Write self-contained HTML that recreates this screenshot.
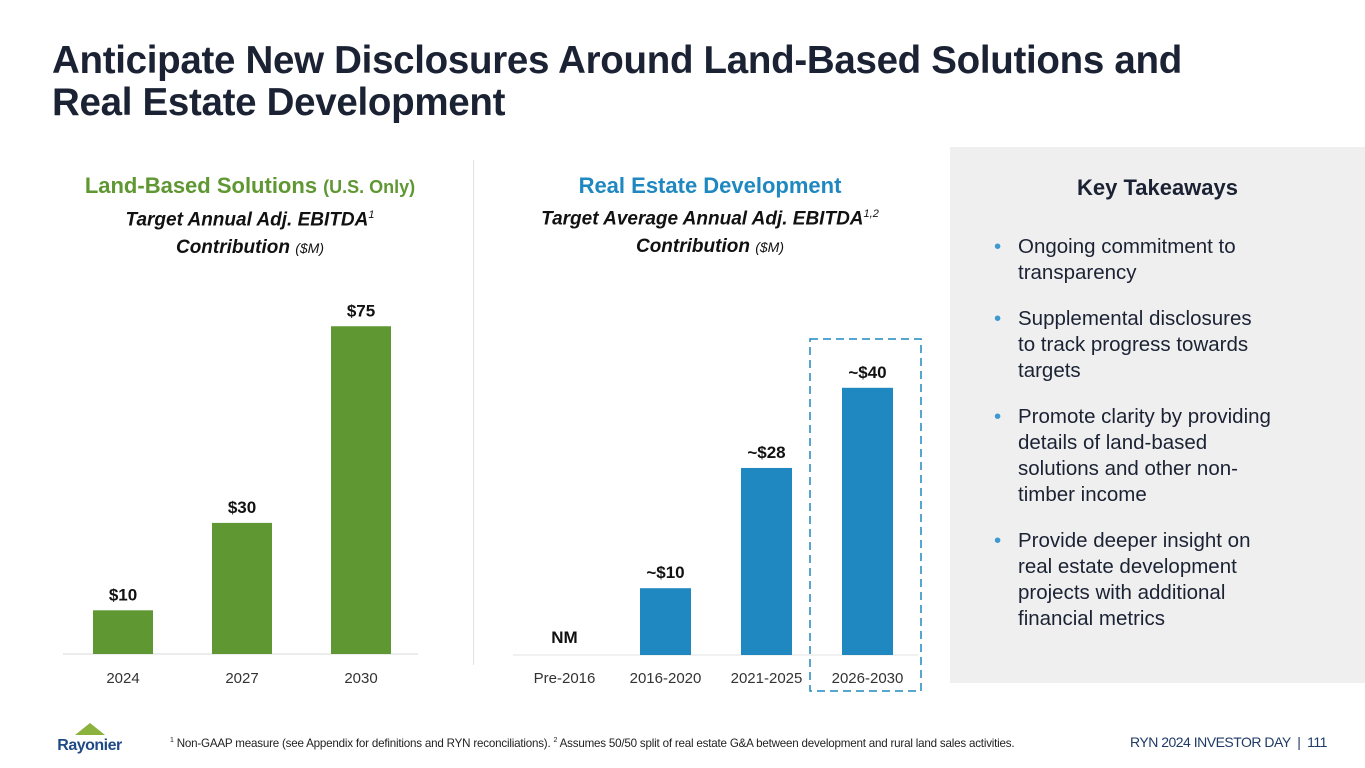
<!DOCTYPE html>
<html><head><meta charset="utf-8"><style>
body{margin:0;width:1365px;height:768px;background:#fff;font-family:"Liberation Sans",sans-serif;position:relative;overflow:hidden;color:#111}
.abs{position:absolute}
h1{position:absolute;left:52px;top:40px;margin:0;font-size:38.5px;line-height:42px;font-weight:bold;color:#1b2233;letter-spacing:-0.3px}
.ct{text-align:center;font-weight:bold}
.ul{list-style:none;margin:0;padding:0}
.ul li{position:relative;padding-left:30px;font-size:20.5px;line-height:26px;color:#1b2233;margin-bottom:20px;white-space:nowrap}
.ul li:before{content:"•";position:absolute;left:6px;color:#3d9ad1}
</style></head><body>
<h1>Anticipate New Disclosures Around Land-Based Solutions and<br>Real Estate Development</h1>

<div class="abs ct" style="left:40px;top:172px;width:420px">
<div style="color:#5f9732;font-size:22px;line-height:28px">Land-Based Solutions <span style="font-size:18px">(U.S. Only)</span></div>
<div style="font-style:italic;font-size:19px;line-height:28px">Target Annual Adj. EBITDA<sup style="font-size:11px;font-weight:normal">1</sup><br>Contribution <span style="font-size:14px;font-weight:normal">($M)</span></div></div>

<div class="abs ct" style="left:490px;top:172px;width:440px">
<div style="color:#1f88c0;font-size:22px;line-height:28px">Real Estate Development</div>
<div style="font-style:italic;font-size:19px;line-height:28px">Target Average Annual Adj. EBITDA<sup style="font-size:11px;font-weight:normal">1,2</sup><br>Contribution <span style="font-size:14px;font-weight:normal">($M)</span></div></div>

<div class="abs" style="left:473px;top:160px;width:1px;height:505px;background:#e2e2e2"></div>

<svg class="abs" style="left:0;top:0" width="950" height="700" id="charts"></svg>

<div class="abs" style="left:950px;top:147px;width:415px;height:536px;background:#efefef">
<div class="ct" style="margin-top:28px;font-size:22px;color:#1b2233">Key Takeaways</div>
<ul class="ul" style="margin:33px 20px 0 38px">
<li>Ongoing commitment to<br>transparency</li>
<li>Supplemental disclosures<br>to track progress towards<br>targets</li>
<li>Promote clarity by providing<br>details of land-based<br>solutions and other non-<br>timber income</li>
<li>Provide deeper insight on<br>real estate development<br>projects with additional<br>financial metrics</li>
</ul></div>

<div class="abs" style="left:52px;top:722px;width:75px;text-align:center">
<svg width="30" height="12"><polygon points="15,0 30,12 0,12" fill="#8ab23c"/></svg>
<div style="color:#1f4a86;font-weight:bold;font-size:16px;margin-top:-3px;letter-spacing:-0.5px">Rayonier</div></div>
<div class="abs" style="left:170px;top:737px;font-size:11.6px;color:#222;white-space:nowrap;letter-spacing:-0.2px"><sup style="font-size:7px">1</sup> Non-GAAP measure (see Appendix for definitions and RYN reconciliations). <sup style="font-size:7px">2</sup> Assumes 50/50 split of real estate G&amp;A between development and rural land sales activities.</div>
<div class="abs" style="left:1130px;top:734px;font-size:14px;color:#1f3a66;white-space:nowrap;letter-spacing:-0.5px">RYN 2024 INVESTOR DAY &nbsp;|&nbsp; 111</div>

<script>
const landCats=["2024","2027","2030"];
const landVals=[10,30,75];
const landLabels=["$10","$30","$75"];
const reCats=["Pre-2016","2016-2020","2021-2025","2026-2030"];
const reVals=[0,10,28,40];
const reLabels=["NM","~$10","~$28","~$40"];
const NS="http://www.w3.org/2000/svg";
const svg=document.getElementById('charts');
function mk(t,a){const e=document.createElementNS(NS,t);for(const k in a)e.setAttribute(k,a[k]);svg.appendChild(e);return e;}
const lBase=654,lX0=63,lStep=119,lBw=60;
const ly=v=>lBase-v*4.37;
const lx=i=>lX0+30+i*lStep;
let ax=mk('line',{x1:63,x2:418,y1:lBase,y2:lBase,stroke:'#d9d9d9','stroke-width':1});


landVals.forEach((v,i)=>{
 const r=mk('rect',{x:lx(i),y:ly(v),width:lBw,height:lBase-ly(v),fill:'#5f9732'});
 
 
 const t=mk('text',{x:lx(i)+lBw/2,y:ly(v)-10,'text-anchor':'middle','font-size':17,'font-weight':'bold',fill:'#111','font-family':'Liberation Sans'});t.textContent=landLabels[i];
 
 
 const c=mk('text',{x:lx(i)+lBw/2,y:683,'text-anchor':'middle','font-size':15,fill:'#333','font-family':'Liberation Sans'});c.textContent=landCats[i];
 
 
});
const rBase=655,rK=6.68,rStep=101,rBw=51;
const ry=v=>rBase-v*rK;
const rx=i=>539+i*rStep;
ax=mk('line',{x1:513,x2:918,y1:rBase,y2:rBase,stroke:'#e3e3e3','stroke-width':1});


reVals.forEach((v,i)=>{
 const top=ry(v);
 if(rBase-top>0){const r=mk('rect',{x:rx(i),y:top,width:rBw,height:rBase-top,fill:'#1f88c0'});
 
 }
 const t=mk('text',{x:rx(i)+rBw/2,y:v>0?top-10:top-12,'text-anchor':'middle','font-size':17,'font-weight':'bold',fill:'#111','font-family':'Liberation Sans'});t.textContent=reLabels[i];
 
 
 const c=mk('text',{x:rx(i)+rBw/2,y:683,'text-anchor':'middle','font-size':15,fill:'#333','font-family':'Liberation Sans'});c.textContent=reCats[i];
 
 
});
const hb=mk('rect',{x:810,y:339,width:111,height:352,fill:'none',stroke:'#1f88c0','stroke-width':1.5,'stroke-dasharray':'8,5'});


</script>
</body></html>
